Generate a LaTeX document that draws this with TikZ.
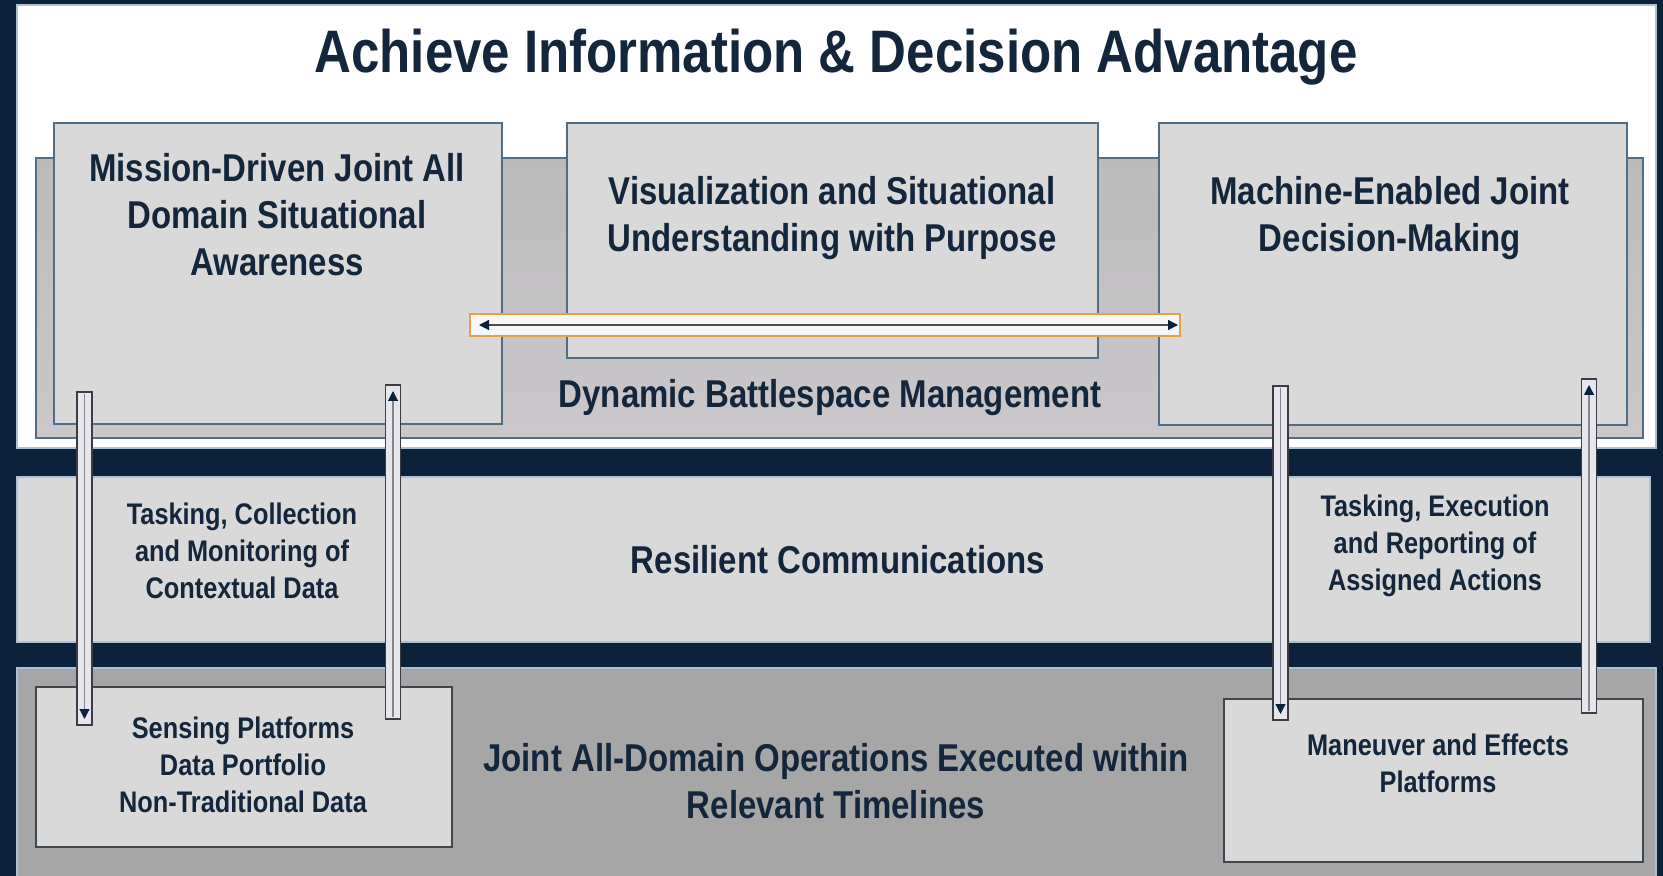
\documentclass[tikz,border=0pt]{standalone}
\usepackage{fontspec}
\newfontfamily\dfont[FakeStretch=0.85]{Liberation Sans}
\usetikzlibrary{arrows.meta,calc,fit}
\definecolor{navy}{HTML}{0B223A}
\definecolor{txt}{HTML}{14263C}
\definecolor{boxfill}{HTML}{D9D9D9}
\definecolor{boxedge}{HTML}{4F6E86}
\definecolor{backtop}{HTML}{BBBBBB}
\definecolor{backbot}{HTML}{CBC7CB}
\definecolor{lowfill}{HTML}{A6A6A6}
\definecolor{platedge}{HTML}{3E4650}
\definecolor{orng}{HTML}{E3A24A}
\definecolor{barfill}{HTML}{E6E6EC}
\definecolor{baredge}{HTML}{3C3C44}
\definecolor{shaftgray}{HTML}{85858E}
\definecolor{bandedge}{HTML}{A9C2D4}
\tikzset{
  navytip/.tip={Triangle[length=5pt,width=5pt,color=navy]},
  upbox/.style={draw=boxedge, line width=1pt, fill=boxfill, inner sep=0pt},
  platbox/.style={draw=platedge, line width=0.8pt, fill=boxfill, inner sep=0pt},
  obar/.style={draw=orng, line width=1pt, fill=white!94!gray, inner sep=0pt},
  barbody/.style={draw=baredge, line width=0.8pt, fill=barfill},
  shaft/.style={draw=shaftgray, line width=0.6pt},
  titletext/.style={inner sep=0pt, anchor=base, text=txt, font=\dfont\bfseries\fontsize{30}{36}\selectfont},
  headtext/.style={inner sep=0pt, anchor=base, align=center, text=txt, font=\dfont\bfseries\fontsize{19.4}{23.5}\selectfont},
  smalltext/.style={inner sep=0pt, anchor=base, align=center, text=txt, font=\dfont\bfseries\fontsize{14.9}{18.4}\selectfont}
}
\begin{document}
\begin{tikzpicture}[x=0.5pt,y=-0.5pt]
% background and bands
\fill[navy] (0,0) rectangle (1663,876);
\useasboundingbox (0,0) rectangle (1663,876);
\node[draw=bandedge, line width=0.6pt, fill=white, inner sep=0pt, fit={(17,5)(1656,448)}] (top) {};
\node[draw=bandedge, line width=0.6pt, fill=boxfill, inner sep=0pt, fit={(17,477)(1650,642)}] (mid) {};
\node[draw=bandedge, line width=0.6pt, fill=lowfill, inner sep=0pt, fit={(17,668)(1656,882)}] (low) {};
% back panel
\shade[top color=backtop, bottom color=backbot] (36,158) rectangle (1643,438);
\node[draw=boxedge, line width=0.8pt, inner sep=0pt, fit={(36,158)(1643,438)}] (dbm) {};
% upper boxes
\node[upbox, fit={(54,123)(502,424)}] (mda) {};
\node[upbox, fit={(567,123)(1098,358)}] (vsu) {};
\node[upbox, fit={(1159,123)(1627,425)}] (mej) {};
% orange two-way bar
\node[obar, fit={(470,314)(1180,336)}] (ob) {};
\draw[shaft, draw=black!70, navytip-navytip]
  ($(ob.west)+(10,0)$) -- ($(ob.east)+(-3,0)$);
% platform boxes
\node[platbox, fit={(36,687)(452,847)}] (sp) {};
\node[platbox, fit={(1224,699)(1643,862)}] (mep) {};
% vertical connector bars
\coordinate (l1a) at (84.5,392); \coordinate (l1b) at (84.5,725);
\coordinate (l2a) at (393,385);  \coordinate (l2b) at (393,719);
\coordinate (r1a) at (1280.5,386); \coordinate (r1b) at (1280.5,720);
\coordinate (r2a) at (1589,379); \coordinate (r2b) at (1589,713);
\foreach \a/\b in {l1a/l1b,l2a/l2b,r1a/r1b,r2a/r2b}{
  \draw[barbody] ($(\a)+(-7.5,0)$) rectangle ($(\b)+(7.5,0)$);
}
\draw[shaft, -navytip] ($(l1a)+(0,2)$) -- ($(l1b)+(0,-6)$);
\draw[shaft, -navytip] ($(l2b)+(0,-2)$) -- ($(l2a)+(0,6)$);
\draw[shaft, -navytip] ($(r1a)+(0,2)$) -- ($(r1b)+(0,-6)$);
\draw[shaft, -navytip] ($(r2b)+(0,-2)$) -- ($(r2a)+(0,6)$);
% texts (base anchor = baseline of the last line)
\node[titletext] (title) at (836,73) {Achieve Information \& Decision Advantage};
\node[headtext] (mdaT) at (277,276) {Mission-Driven Joint All\\Domain Situational\\Awareness};
\node[headtext] (vsuT) at (832,252) {Visualization and Situational\\Understanding with Purpose};
\node[headtext] (mejT) at (1390,252) {Machine-Enabled Joint\\Decision-Making};
\node[headtext] (dbmT) at (830,408) {Dynamic Battlespace Management};
\node[headtext] (rcT) at (838,573) {Resilient Communications};
\node[headtext] (jadoT) at (836,818) {Joint All-Domain Operations Executed within\\Relevant Timelines};
\node[smalltext] (tcmT) at (242,598) {Tasking, Collection\\and Monitoring of\\Contextual Data};
\node[smalltext] (terT) at (1435,590) {Tasking, Execution\\and Reporting of\\Assigned Actions};
\node[smalltext] (spT) at (243,812) {Sensing Platforms\\Data Portfolio\\Non-Traditional Data};
\node[smalltext] (mepT) at (1438,792) {Maneuver and Effects\\Platforms};
\end{tikzpicture}
\end{document}
